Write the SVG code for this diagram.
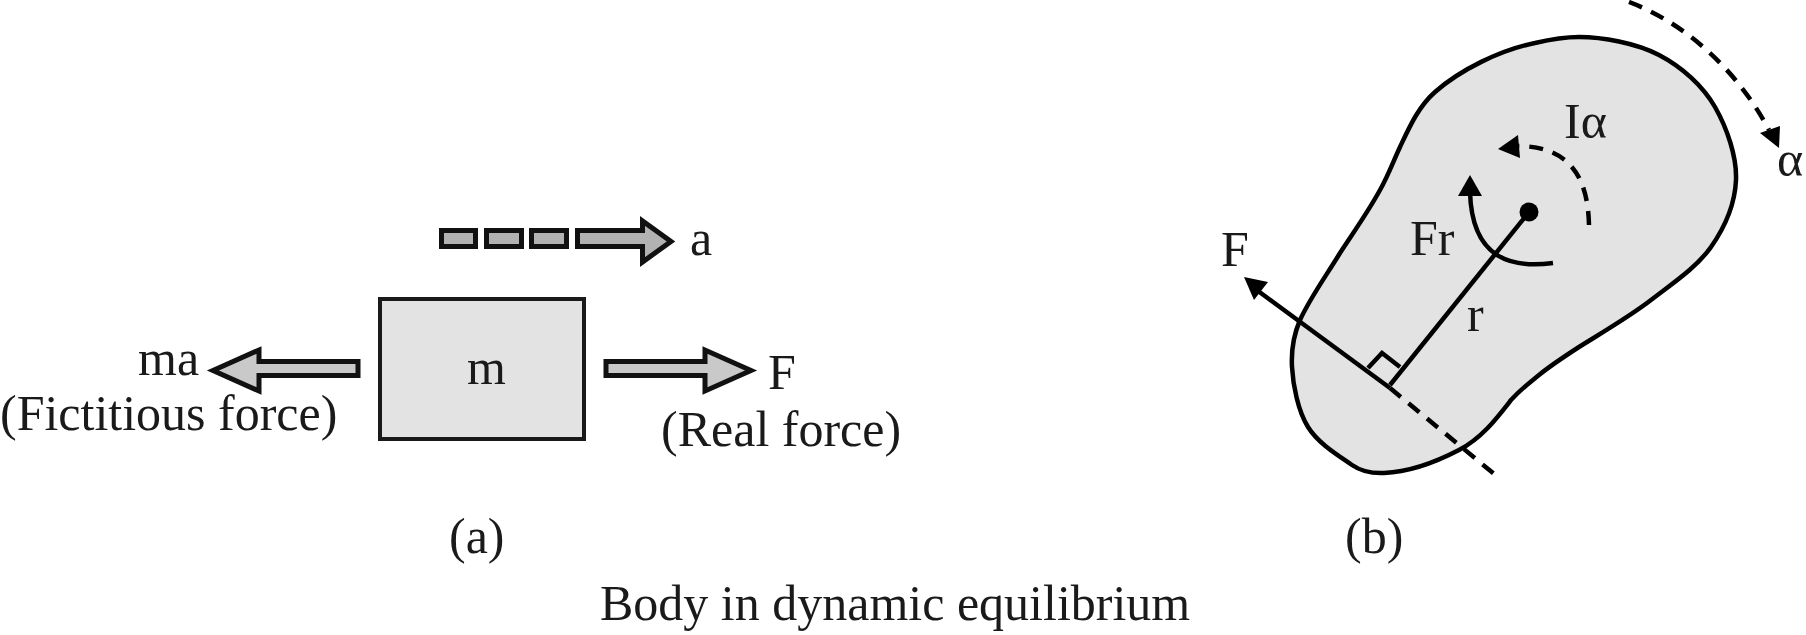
<svg xmlns="http://www.w3.org/2000/svg" width="1806" height="635" viewBox="0 0 1806 635">
<style>
text{font-family:"Liberation Serif","Times New Roman",serif;font-size:50px;fill:#1a1a1a}
.block{fill:#b2b2b2;stroke:#111;stroke-width:5;stroke-linejoin:miter}
.light{fill:#c9c9c9}
.ln{fill:none;stroke:#000;stroke-width:4.500}
.dash{fill:none;stroke:#000;stroke-width:4.500;stroke-dasharray:14 10}
.head{fill:#000;stroke:none}
</style>
<rect width="1806" height="635" fill="#fff"/>
<g id="mass"><rect x="380" y="299" width="204" height="140" fill="#e3e3e3" stroke="#1a1a1a" stroke-width="4"/><text x="467" y="384">m</text></g>
<g id="body"><path d="M1579 37C1602 37 1636 43 1659 55C1682 67 1703 86 1715 107C1727 128 1737 157 1736 180C1735 203 1725 227 1711 247C1697 267 1673 283 1651 300C1629 317 1598 335 1579 347C1562 358 1550 366 1539 375C1528 384 1522 388 1511 400C1497 418 1482 438 1459 450C1436 462 1408 472 1384 473C1372 473.500 1362 472 1352 465C1336 454 1318 443 1308 427C1298 411 1293 385 1292 367C1291 349 1294 334 1300 320C1310 298 1326 276 1340 253C1355 230 1368 212 1380 190C1388 176 1393 162 1400 147C1409 128 1418 107 1435 92C1460 70 1500 50 1535 43C1552 39 1565 37 1579 37Z" fill="#e3e3e3" stroke="#000" stroke-width="4.500"/></g>
<g id="connectors">
<g id="accel-arrow">
<rect class="block" x="441.500" y="230.500" width="34" height="16"/><rect class="block" x="486.500" y="230.500" width="35" height="16"/><rect class="block" x="531.500" y="230.500" width="35" height="16"/>
<path class="block" d="M577.500 230.500H642.500V221L671 241.500L642.500 262V246.500H577.500Z"/>
</g>
<path id="ma-arrow" class="block light" d="M358 361.500V375.500H259V391L213 370.500L259 350V361.500Z"/>
<path id="f-arrow" class="block light" d="M606 361.500V375.500H705V391L751 370.500L705 350V361.500Z"/>
<path id="force-line" class="ln" d="M1254 288L1390 388"/>
<path class="head" d="M1244 277L1268 282L1254 300Z"/>
<path id="force-ext" class="dash" d="M1390 388L1499 478"/>
<path id="radius" class="ln" d="M1529 212L1390 385"/>
<path id="right-angle" class="ln" d="M1368 368L1382 353L1400 367"/>
<path id="fr-arc" class="ln" d="M1553 263C1515 268 1472 262 1470 192"/>
<path class="head" d="M1470 175L1482 196L1458 196Z"/>
<path id="ia-arc" class="dash" d="M1589 225C1588 180 1572 146 1517 146"/>
<path class="head" d="M1498 149L1518 135L1520 158Z"/>
<path id="alpha-arc" class="dash" d="M1629 2C1690 25 1740 75 1769 130"/>
<path class="head" d="M1779 148L1760 133L1780 126Z"/>
<circle cx="1529" cy="212" r="9.500" fill="#000"/>
</g>
<g id="labels">
<text x="690" y="255">a</text>
<text x="138" y="375">ma</text>
<text x="0" y="430">(Fictitious force)</text>
<text x="768" y="389">F</text>
<text x="661" y="446">(Real force)</text>
<text x="449" y="553">(a)</text>
<text x="1345" y="553">(b)</text>
<text x="600" y="620">Body in dynamic equilibrium</text>
<text x="1564" y="138">Iα</text>
<text x="1777" y="176">α</text>
<text x="1410" y="255">Fr</text>
<text x="1221" y="266">F</text>
<text x="1467" y="331">r</text>
</g>
</svg>
